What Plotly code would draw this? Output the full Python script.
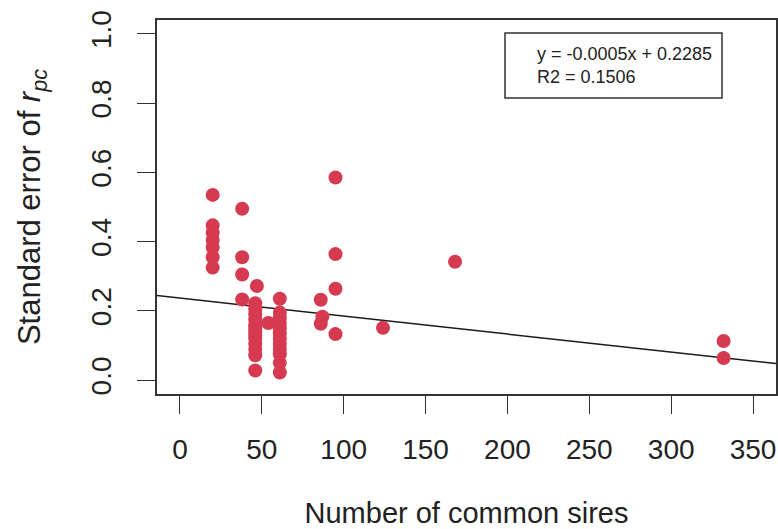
import plotly.graph_objects as go

# Number of common sires (x) and standard error of r_pc (y)
sires = [20, 20, 20, 20, 20, 20, 20,
         38, 38, 38, 38,
         47, 46, 46, 46, 46, 46, 46, 46, 46, 46, 46, 46, 46, 46,
         54,
         61, 61, 61, 61, 61, 61, 61, 61, 61, 61, 61, 61,
         86, 87, 86,
         95, 95, 95, 95,
         124, 168, 332, 332]
se_rpc = [0.535, 0.447, 0.426, 0.405, 0.383, 0.355, 0.325,
          0.495, 0.355, 0.305, 0.233,
          0.272, 0.222, 0.205, 0.19, 0.175, 0.16, 0.15, 0.14, 0.13, 0.12, 0.105, 0.09, 0.072, 0.028,
          0.165,
          0.235, 0.195, 0.18, 0.165, 0.15, 0.135, 0.12, 0.105, 0.09, 0.075, 0.05, 0.022,
          0.232, 0.183, 0.163,
          0.585, 0.364, 0.264, 0.133,
          0.151, 0.342, 0.113, 0.064]

# Fitted regression line (as drawn)
fit_intercept = 0.237
fit_slope = -0.00052
line_x = [-14, 364]
line_y = [fit_intercept + fit_slope * v for v in line_x]

x_ticks = [0, 50, 100, 150, 200, 250, 300, 350]
y_ticks = [0.0, 0.2, 0.4, 0.6, 0.8, 1.0]
y_tick_text = ["0.0", "0.2", "0.4", "0.6", "0.8", "1.0"]

eq_text = "y = -0.0005x + 0.2285<br>R2 = 0.1506"

FONT = "Liberation Sans, Arial, sans-serif"

# figure geometry
W, H = 778, 529
ML, MR, MT, MB = 157, 2, 20, 135
PW, PH = W - ML - MR, H - MT - MB


def px_to_paper_x(px):
    return (px - ML) / PW


def px_to_paper_y(py):
    return (H - MB - py) / PH


fig = go.Figure()
fig.add_trace(go.Scatter(x=line_x, y=line_y, mode="lines",
                         line=dict(color="#1a1a1a", width=1.5),
                         hoverinfo="skip", showlegend=False))
fig.add_trace(go.Scatter(x=sires, y=se_rpc, mode="markers",
                         marker=dict(color="#D63A50", size=14, line=dict(width=0)),
                         showlegend=False))

# equation box
fig.add_shape(type="rect", xref="paper", yref="paper",
              x0=px_to_paper_x(505), x1=px_to_paper_x(722),
              y0=px_to_paper_y(98), y1=px_to_paper_y(33),
              line=dict(color="#333", width=1.5), fillcolor="white", layer="above")
fig.add_annotation(xref="paper", yref="paper", x=px_to_paper_x(535), y=px_to_paper_y(65),
                   xanchor="left", yanchor="middle", text=eq_text, showarrow=False,
                   align="left", font=dict(family=FONT, size=18, color="#222"))

fig.update_layout(
    width=W, height=H,
    margin=dict(l=ML, r=MR, t=MT, b=MB),
    paper_bgcolor="white", plot_bgcolor="white",
    font=dict(family=FONT, size=27, color="#222"),
    xaxis=dict(range=[-14, 364], tickvals=x_ticks, ticktext=[str(v) for v in x_ticks],
               showgrid=False, zeroline=False, showline=True, linecolor="#333", linewidth=1.5,
               mirror=True, ticks="outside", ticklen=18, tickwidth=1.2, tickcolor="#333",
               tickfont=dict(size=28), ticklabelstandoff=12, automargin=False,
               title=dict(text="Number of common sires", font=dict(size=29), standoff=53)),
    yaxis=dict(range=[-0.04, 1.04], tickvals=y_ticks, ticktext=y_tick_text,
               showgrid=False, zeroline=False, showline=True, linecolor="#333", linewidth=1.5,
               mirror=True, ticks="outside", ticklen=18, tickwidth=1.2, tickcolor="#333",
               tickangle=-90, tickfont=dict(size=28), ticklabelstandoff=15, automargin=False,
               title=dict(text="Standard error of <i>r</i><sub><i>pc</i></sub>", font=dict(size=31),
                          standoff=36)),
)

fig.write_html("out.html", config={"displayModeBar": False},
               post_script="document.body.style.margin='0';")
